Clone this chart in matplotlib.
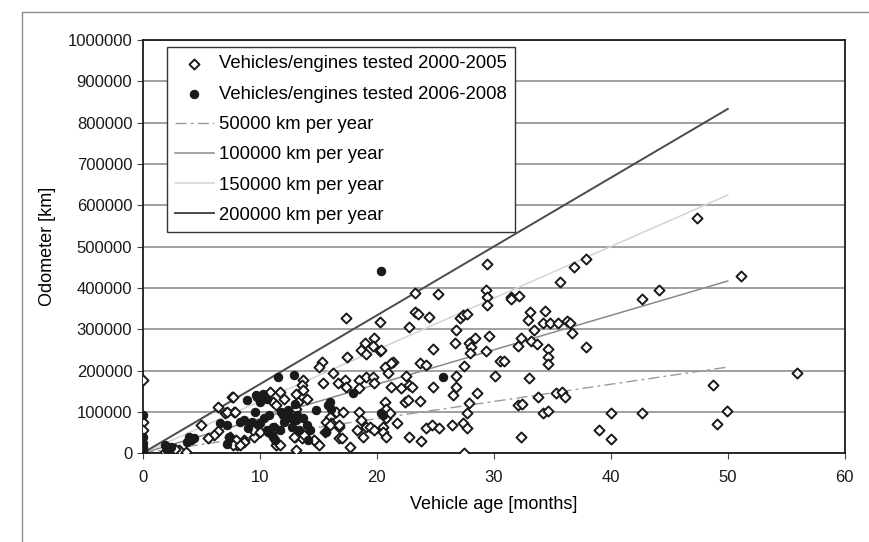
import matplotlib.pyplot as plt
from matplotlib.patches import Rectangle
from matplotlib.ticker import FuncFormatter

plt.rcParams['font.family'] = ['Liberation Sans', 'DejaVu Sans']

# Vehicles/engines tested 2000-2005 (age in months, odometer in km)
old_age = [0, 0, 0, 1.9, 3.1, 3.7, 2.8,
           5.0, 6.4, 6.1, 5.6, 7.6, 6.4, 7.0, 7.8, 7.2, 7.9, 7.7,
           8.1, 7.5, 8.7, 9.4, 9.5, 8.0, 8.7, 7.7, 8.3, 9.4, 10.0,
           10.9, 11.7, 11.1, 11.4, 11.3, 11.4, 11.7,
           13.7, 13.6, 13.7, 12.1, 13.1, 14.0, 13.3, 13.1,
           13.0, 13.6, 13.1, 12.9, 13.8, 14.8, 15.1, 14.6,
           15.3, 15.1, 16.3, 15.4, 16.7, 17.3, 17.4, 17.5,
           18.5, 19.1, 19.7, 19.8, 18.5,
           16.5, 17.1, 18.5, 18.7, 19.1, 20.7, 20.8, 20.5,
           16.0, 16.1, 16.8, 18.3, 19.4, 19.8, 15.6, 16.8, 17.7, 17.0, 18.8,
           15.7, 16.0, 16.8,
           19.8, 19.0, 19.7, 18.7, 19.1, 20.3, 17.4, 20.3,
           20.4, 21.4, 20.7, 21.2, 21.0,
           23.3, 25.2, 23.3, 23.5, 24.5, 22.8, 27.1, 27.4, 27.7, 26.8,
           28.4, 27.9, 28.1, 29.6, 26.7, 24.8, 29.3, 28.0,
           23.7, 24.2, 27.5, 26.8, 30.1, 22.5,
           21.2, 22.1, 22.8, 23.0, 24.8, 26.8, 26.5, 28.6,
           20.7, 20.8, 22.4, 22.7, 23.7, 27.9,
           21.1, 27.7, 21.7, 24.2, 24.7, 25.3, 26.4, 27.4, 27.7,
           20.5, 20.8, 22.8, 23.8, 27.5,
           29.4, 29.3, 29.4, 29.4,
           37.9, 36.9, 35.7, 31.45, 31.5, 32.2, 33.1, 34.4, 32.9,
           34.2, 34.8, 35.5, 36.3, 36.5, 33.4, 36.7, 32.3, 32.1, 33.2, 33.7,
           34.6, 34.6, 34.6, 37.9, 30.5, 30.9, 33.0, 32.1, 32.4, 33.8,
           35.3, 35.8, 36.1, 34.2, 34.6, 32.3, 40.05, 39.0, 40.05,
           47.4, 51.1, 42.7, 44.1, 55.95, 48.7, 42.7, 49.9, 49.1]
old_km = [178000, 76000, 56000, 3000, 7000, 3000, 10000,
          69000, 54000, 44000, 37000, 135000, 111000, 98000, 100000, 100000, 100000, 136000,
          19000, 40000, 31000, 60000, 40000, 31000, 27000, 19000, 19000, 56000, 52000,
          148000, 148000, 124000, 116000, 60000, 19000, 19000,
          178000, 165000, 153000, 132000, 144000, 132000, 124000, 108000,
          40000, 36000, 7000, 40000, 44000, 27000, 19000, 31000,
          221000, 209000, 194000, 170000, 170000, 177000, 160000, 233000,
          177000, 185000, 185000, 169000, 157000,
          100000, 100000, 100000, 80000, 64000, 100000, 84000, 64000,
          88000, 72000, 64000, 56000, 64000, 56000, 52000, 36000, 15000, 36000, 40000,
          76000, 68000, 68000,
          278000, 266000, 259000, 249000, 241000, 248000, 326000, 318000,
          249000, 221000, 209000, 217000, 193000,
          387000, 385000, 342000, 338000, 330000, 306000, 326000, 334000, 336000, 299000,
          278000, 266000, 256000, 284000, 266000, 253000, 248000, 243000,
          217000, 213000, 211000, 186000, 186000, 186000,
          160000, 157000, 166000, 159000, 160000, 160000, 140000, 146000,
          124000, 108000, 124000, 128000, 127000, 122000,
          96000, 96000, 72000, 60000, 68000, 60000, 68000, 73000, 62000,
          52000, 40000, 40000, 30000, 0,
          459000, 396000, 378000, 358000,
          469000, 451000, 414000, 378000, 372000, 380000, 341000, 345000, 322000,
          315000, 315000, 315000, 320000, 315000, 299000, 291000, 278000, 260000, 272000, 265000,
          253000, 233000, 215000, 256000, 223000, 223000, 182000, 117000, 120000, 136000,
          146000, 148000, 136000, 96000, 101000, 38000, 97600, 57000, 33000,
          570000, 428000, 374000, 395000, 194000, 166000, 97600, 101700, 70000]

# Vehicles/engines tested 2006-2008
new_age = [0, 0, 0, 0, 0, 0, 1.9, 2.1, 2.4, 3.8, 4.0, 4.1, 4.4,
           6.6, 7.2, 7.4, 7.2, 8.3, 8.7, 9.3, 10.0,
           9.7, 10.3, 10.6, 10.0, 9.8,
           10.4, 11.1, 10.7, 11.7, 10.6, 10.9, 11.1, 11.3,
           11.6, 12.9, 12.0, 12.6, 12.1, 13.1, 13.7, 12.4, 12.3, 12.7,
           13.4, 14.0, 14.1, 14.3, 14.8, 16.0, 15.8, 16.1, 15.7,
           18.0, 20.4, 20.5, 20.4, 25.7,
           9.0, 11.8, 12.8, 13.2, 10.8, 8.9, 13.0, 9.6]
new_km = [92000, 38000, 25000, 15000, 5000, 10000, 19000, 7000, 14000, 27000, 40000, 31000, 36000,
          72000, 68000, 40000, 23000, 76000, 80000, 76000, 72000,
          140000, 144000, 132000, 124000, 136000,
          84000, 64000, 52000, 56000, 56000, 48000, 40000, 31000,
          185000, 189000, 92000, 88000, 76000, 80000, 84000, 104000, 96000, 84000,
          56000, 68000, 31000, 56000, 104000, 124000, 116000, 108000, 52000,
          146000, 441000, 92000, 96000, 185000,
          60000, 100000, 64000, 92000, 92000, 128000, 120000, 100000]

# Reference mileage rates, drawn up to 50 months
rates = [50000, 100000, 150000, 200000]
rate_labels = ['50000 km per year', '100000 km per year',
               '150000 km per year', '200000 km per year']
rate_end = 50

fig = plt.figure(figsize=(8.7, 5.42), dpi=100)
ax = fig.add_axes([0.164, 0.164, 0.807, 0.762])

# thin frame around the whole chart area
fig.patches.append(Rectangle((0.025, -0.01), 1.0, 0.988, transform=fig.transFigure,
                             fill=False, edgecolor='#8c8c8c', linewidth=1.0))

ax.scatter(old_age, old_km, marker='D', s=26, facecolor='white', edgecolor='#1a1a1a',
           linewidth=1.4, zorder=3, label='Vehicles/engines tested 2000-2005')
ax.scatter(new_age, new_km, marker='o', s=36, facecolor='#1a1a1a', edgecolor='#1a1a1a',
           linewidth=0.8, zorder=4, label='Vehicles/engines tested 2006-2008')

styles = [dict(color='#9a9a9a', linestyle=(0, (8, 3, 2, 3)), linewidth=1.0),
          dict(color='#8a8a8a', linestyle='-', linewidth=1.1),
          dict(color='#d4d4d4', linestyle='-', linewidth=1.1),
          dict(color='#4a4a4a', linestyle='-', linewidth=1.4)]
for rate, lab, st in zip(rates, rate_labels, styles):
    ax.plot([0, rate_end], [0, rate * rate_end / 12], label=lab, zorder=2, **st)

ax.set_xlim(0, 60)
ax.set_ylim(0, 1000000)
ax.set_xticks(range(0, 61, 10))
ax.set_yticks(range(0, 1000001, 100000))
ax.yaxis.set_major_formatter(FuncFormatter(lambda v, p: f'{int(v)}'))
ax.yaxis.grid(True, color='#999999', linewidth=1.3)
ax.set_axisbelow(True)
for sp in ax.spines.values():
    sp.set_color('#1a1a1a')
    sp.set_linewidth(1.3)
ax.tick_params(axis='both', labelsize=12, length=4, color='#444444', colors='#1a1a1a')
ax.tick_params(axis='x', pad=8)

ax.set_xlabel('Vehicle age [months]', fontsize=13, labelpad=8)
ax.set_ylabel('Odometer [km]', fontsize=13, labelpad=8)

leg = ax.legend(loc='upper left', bbox_to_anchor=(0.034, 0.983), fontsize=13.3,
                frameon=True, fancybox=False, edgecolor='#333333', framealpha=1,
                handlelength=2.1, handletextpad=0.3, labelspacing=0.72,
                borderpad=0.45, scatterpoints=1, borderaxespad=0)
leg.get_frame().set_linewidth(1.0)

fig.savefig('out.png', dpi=100)
